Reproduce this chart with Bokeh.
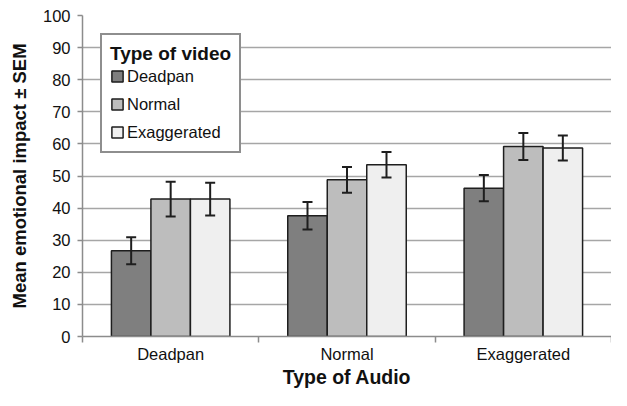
from bokeh.plotting import figure
from bokeh.models import ColumnDataSource, Whisker, TeeHead, FixedTicker
from bokeh.embed import file_html
from bokeh.resources import INLINE

audio_types = ["Deadpan", "Normal", "Exaggerated"]
video_types = ["Deadpan", "Normal", "Exaggerated"]
deadpan_means = [26.7, 37.6, 46.2]
normal_means = [42.8, 48.8, 59.2]
exaggerated_means = [42.8, 53.5, 58.7]
deadpan_sem = [4.2, 4.3, 4.1]
normal_sem = [5.4, 4.0, 4.2]
exaggerated_sem = [5.1, 4.0, 3.9]
y_ticks = [0, 10, 20, 30, 40, 50, 60, 70, 80, 90, 100]

series = [
    ("Deadpan", deadpan_means, deadpan_sem, "#7f7f7f", -0.224),
    ("Normal", normal_means, normal_sem, "#bdbdbd", 0.0),
    ("Exaggerated", exaggerated_means, exaggerated_sem, "#efefef", 0.224),
]

FONT = "Liberation Sans"

p = figure(width=611, height=390, output_backend="svg", toolbar_location=None,
           x_range=(0, len(audio_types)), y_range=(0, 100),
           min_border_left=82, min_border_right=0, min_border_top=15,
           min_border_bottom=40)
p.outline_line_color = None
p.xgrid.grid_line_color = None
p.ygrid.grid_line_color = "#a6a6a6"
p.ygrid.grid_line_width = 1.5
p.ygrid.ticker = FixedTicker(ticks=y_ticks)

for name, means, sems, color, off in series:
    xs = [i + 0.5 + off for i in range(len(audio_types))]
    src = ColumnDataSource(dict(
        x=xs, top=means,
        upper=[m + s for m, s in zip(means, sems)],
        lower=[m - s for m, s in zip(means, sems)],
    ))
    p.vbar(x="x", top="top", bottom=0, width=0.224, source=src,
           fill_color=color, line_color="#1e1e1e", line_width=1.5,
           legend_label=name)
    w = Whisker(source=src, base="x", upper="upper", lower="lower",
                dimension="height", line_color="#1e1e1e", line_width=2,
                upper_head=TeeHead(size=10, line_color="#1e1e1e", line_width=2),
                lower_head=TeeHead(size=10, line_color="#1e1e1e", line_width=2),
                level="overlay")
    p.add_layout(w)

xa = p.xaxis[0]
xa.ticker = FixedTicker(ticks=[i + 0.5 for i in range(len(audio_types))],
                        minor_ticks=list(range(len(audio_types) + 1)))
xa.major_label_overrides = {i + 0.5: a for i, a in enumerate(audio_types)}
xa.major_tick_line_color = None
xa.major_tick_out = 0
xa.minor_tick_out = 6
xa.minor_tick_in = 0
xa.minor_tick_line_color = "#8c8c8c"
xa.minor_tick_line_width = 1.5
xa.axis_line_color = "#8c8c8c"
xa.axis_line_width = 1.5
xa.major_label_text_font = FONT
xa.major_label_text_font_size = "16.5px"
xa.major_label_text_color = "#111111"
xa.major_label_standoff = 2
xa.axis_label = "Type of Audio"
xa.axis_label_text_font = FONT
xa.axis_label_text_font_style = "bold"
xa.axis_label_text_font_size = "19.5px"
xa.axis_label_text_color = "#111111"
xa.axis_label_standoff = 0

ya = p.yaxis[0]
ya.ticker = FixedTicker(ticks=y_ticks)
ya.minor_tick_line_color = None
ya.major_tick_out = 5
ya.major_tick_in = 0
ya.major_tick_line_color = "#8c8c8c"
ya.major_tick_line_width = 1.5
ya.axis_line_color = "#8c8c8c"
ya.axis_line_width = 1.5
ya.major_label_text_font = FONT
ya.major_label_text_font_size = "16.5px"
ya.major_label_text_color = "#111111"
ya.major_label_standoff = 7
ya.axis_label = "Mean emotional impact ± SEM"
ya.axis_label_text_font = FONT
ya.axis_label_text_font_style = "bold"
ya.axis_label_text_font_size = "18.5px"
ya.axis_label_text_color = "#111111"
ya.axis_label_standoff = 10

lg = p.legend[0]
lg.title = "Type of video"
lg.title_text_font = FONT
lg.title_text_font_style = "bold"
lg.title_text_font_size = "19px"
lg.title_text_color = "#111111"
lg.title_standoff = 0
lg.label_text_font = FONT
lg.label_text_font_size = "16.5px"
lg.label_text_color = "#111111"
lg.location = "top_left"
lg.margin = 18
lg.padding = 8
lg.spacing = 6
lg.glyph_width = 14
lg.glyph_height = 14
lg.label_height = 22
lg.label_standoff = 3
lg.border_line_color = "#1e1e1e"
lg.border_line_width = 2
lg.background_fill_color = "white"
lg.background_fill_alpha = 1.0

open("out.html", "w").write(file_html(p, INLINE))
